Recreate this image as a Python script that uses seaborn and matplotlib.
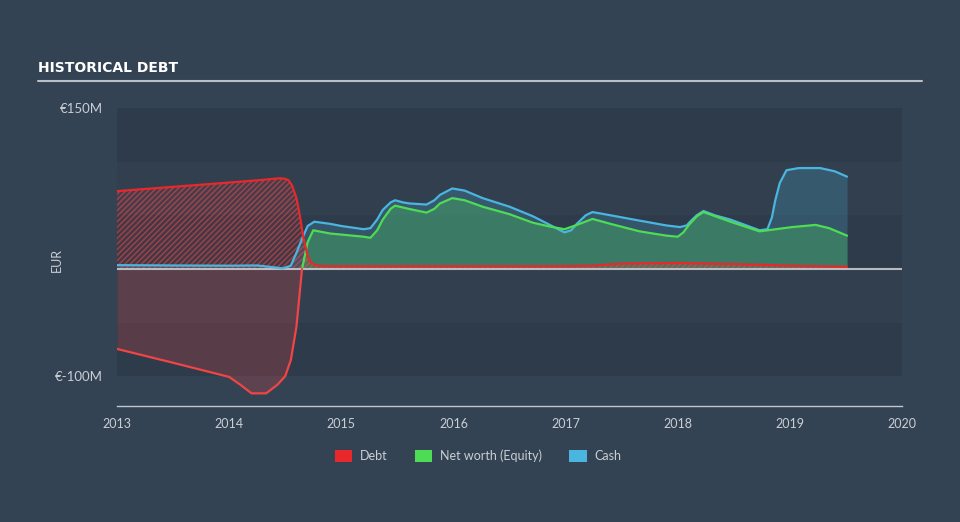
import matplotlib
matplotlib.use("Agg")
import matplotlib.pyplot as plt
from matplotlib.patches import Patch
import seaborn as sns
import numpy as np
import pandas as pd

# ---- data (EUR millions) ----
debt_t = [2013.0, 2013.5, 2014.0, 2014.3, 2014.45, 2014.5, 2014.53, 2014.56, 2014.6, 2014.63,
          2014.66, 2014.7, 2014.73, 2014.77, 2014.85, 2015.0, 2015.5, 2016.0, 2016.5, 2017.0,
          2017.25, 2017.5, 2018.0, 2018.5, 2019.0, 2019.51]
debt_v = [72.5, 76.5, 80.5, 83.0, 84.5, 84.0, 82.5, 78.0, 66.0, 50.0,
          30.0, 12.0, 6.0, 3.5, 2.5, 2.5, 2.5, 2.5, 2.5, 2.5,
          3.0, 5.0, 5.5, 4.5, 3.0, 2.0]

cash_t = [2013.0, 2013.5, 2014.0, 2014.25, 2014.4, 2014.48, 2014.55, 2014.6, 2014.65, 2014.7,
          2014.76, 2014.9, 2015.0, 2015.2, 2015.26, 2015.32, 2015.37, 2015.44, 2015.48, 2015.55,
          2015.61, 2015.76, 2015.83, 2015.88, 2015.99, 2016.1, 2016.26, 2016.5, 2016.71, 2016.86,
          2016.99, 2017.05, 2017.1, 2017.18, 2017.24, 2017.4, 2017.66, 2017.9, 2018.02, 2018.08,
          2018.11, 2018.17, 2018.23, 2018.33, 2018.47, 2018.6, 2018.73, 2018.8, 2018.84, 2018.87,
          2018.91, 2018.97, 2019.08, 2019.27, 2019.4, 2019.51]
cash_v = [3.5, 3.2, 3.0, 3.2, 1.5, 0.5, 3.0, 15.0, 28.0, 40.0,
          44.0, 42.0, 40.0, 37.0, 38.0, 46.0, 55.0, 62.0, 64.0, 62.0,
          61.0, 60.0, 64.0, 69.0, 75.0, 73.0, 66.0, 58.0, 49.0, 41.0,
          34.0, 36.0, 42.0, 50.0, 53.0, 50.0, 45.0, 40.5, 39.0, 40.5,
          44.0, 50.0, 54.0, 50.0, 46.0, 41.0, 36.0, 37.0, 48.0, 64.0,
          80.0, 92.0, 94.0, 94.0, 91.0, 86.0]

eq_t = [2013.0, 2013.5, 2014.0, 2014.1, 2014.2, 2014.33, 2014.43, 2014.5, 2014.55, 2014.6,
        2014.65, 2014.7, 2014.75, 2014.9, 2015.0, 2015.2, 2015.26, 2015.32, 2015.37, 2015.44,
        2015.48, 2015.6, 2015.76, 2015.83, 2015.88, 2015.99, 2016.1, 2016.26, 2016.5, 2016.71,
        2016.86, 2016.99, 2017.1, 2017.24, 2017.4, 2017.66, 2017.9, 2018.0, 2018.05, 2018.1,
        2018.17, 2018.23, 2018.47, 2018.73, 2019.02, 2019.23, 2019.35, 2019.51]
eq_v = [-74.6, -87.5, -100.7, -108.0, -116.0, -116.0, -108.0, -100.0, -85.0, -54.0,
        0.0, 25.0, 36.0, 33.0, 32.0, 30.0, 29.0, 36.0, 46.0, 56.0,
        59.0, 56.0, 52.5, 56.0, 61.0, 66.0, 64.0, 58.0, 51.0, 43.0,
        39.5, 37.0, 41.0, 46.6, 42.0, 35.0, 31.0, 30.0, 34.0, 41.0,
        49.0, 53.0, 44.0, 35.0, 39.0, 41.0, 38.0, 31.0]

year_ticks = [2013, 2014, 2015, 2016, 2017, 2018, 2019, 2020]
y_ticks = [150, -100]
y_tick_labels = ["€150M", "€-100M"]
legend_labels = ["Debt", "Net worth (Equity)", "Cash"]

# ---- style ----
BG = "#344354"
BAND_D = "#2e3b4a"
BAND_L = "#323f4f"
RED = "#e8282a"
RED2 = "#f04545"
GREEN = "#4fdc55"
BLUE = "#4ab6df"
TXT = "#c9ced4"

sns.set_theme(style="white")
plt.rcParams["font.family"] = ["Lato", "DejaVu Sans"]
plt.rcParams["hatch.linewidth"] = 1.0

fig = plt.figure(figsize=(9.6, 5.22), dpi=100, facecolor=BG)
ax = fig.add_axes([117 / 960, 1 - 406 / 522, (902 - 117) / 960, (406 - 108) / 522])
ax.set_facecolor(BG)
ax.set_xlim(2013, 2020)
ax.set_ylim(-127.8, 150)

# horizontal bands
edges = [150, 100, 50, 0, -50, -100]
for i in range(len(edges) - 1):
    ax.axhspan(edges[i + 1], edges[i], color=BAND_D if i % 2 == 0 else BAND_L, lw=0, zorder=0)

debt = pd.DataFrame({"t": debt_t, "v": debt_v})
cash = pd.DataFrame({"t": cash_t, "v": cash_v})
eq = pd.DataFrame({"t": eq_t, "v": eq_v})

# fills
ax.fill_between(cash.t, 0, cash.v, color=BLUE, alpha=0.22, lw=0, zorder=1)
eqv = np.array(eq_v)
ax.fill_between(eq.t, 0, eqv, where=eqv >= 0, color=GREEN, alpha=0.28, lw=0, zorder=2, interpolate=True)
ax.fill_between(eq.t, 0, eqv, where=eqv <= 0, color=RED2, alpha=0.22, lw=0, zorder=2, interpolate=True)
ax.fill_between(debt.t, 0, debt.v, facecolor=(0.91, 0.16, 0.16, 0.12),
                edgecolor=(0.92, 0.3, 0.3, 0.55), hatch="//////", lw=0, zorder=3)

# lines
sns.lineplot(data=cash, x="t", y="v", ax=ax, color=BLUE, lw=1.6, zorder=5, sort=False)
eq_pos = eq[eq.t >= 2014.65]
eq_neg = eq[eq.t <= 2014.65]
sns.lineplot(data=eq_pos, x="t", y="v", ax=ax, color=GREEN, lw=1.6, zorder=5, sort=False)
sns.lineplot(data=eq_neg, x="t", y="v", ax=ax, color=RED2, lw=1.6, zorder=5, sort=False)
sns.lineplot(data=debt, x="t", y="v", ax=ax, color=RED, lw=1.6, zorder=6, sort=False)

ax.axhline(0, color="#c8c8cc", lw=1.5, zorder=4, alpha=0.9)

# axes styling
for s in ["top", "right", "left"]:
    ax.spines[s].set_visible(False)
ax.spines["bottom"].set_color("#c0c6cc")
ax.spines["bottom"].set_linewidth(1.0)
ax.set_xticks(year_ticks)
ax.set_xticklabels([str(y) for y in year_ticks])
ax.tick_params(axis="x", colors=TXT, length=8, width=1.0, direction="out", labelsize=9, pad=1)
ax.tick_params(axis="x", color="#c0c6cc")
ax.set_yticks(y_ticks)
ax.set_yticklabels(y_tick_labels)
ax.tick_params(axis="y", colors=TXT, length=0, labelsize=9.5, pad=10)
ax.set_xlabel("")
ax.set_ylabel("")
ax.grid(False)

fig.text(57 / 960, 1 - 260 / 522, "EUR", color=TXT, fontsize=9, rotation=90,
         ha="center", va="center")

# title and rule
fig.text(38 / 960, 1 - 68 / 522, "HISTORICAL DEBT", color="white", fontsize=10,
         fontweight="bold", va="center", ha="left", family=["DejaVu Sans"])
fig.add_artist(plt.Line2D([38 / 960, 922 / 960], [1 - 81 / 522, 1 - 81 / 522],
                          color="#b9bfc6", lw=1.5, transform=fig.transFigure))

handles = [Patch(facecolor=RED, edgecolor="none"),
           Patch(facecolor=GREEN, edgecolor="none"),
           Patch(facecolor=BLUE, edgecolor="none")]
leg = fig.legend(handles, legend_labels, loc="center", bbox_to_anchor=(478 / 960, 1 - 456 / 522),
                 ncol=3, frameon=False, fontsize=9, handlelength=1.4, handleheight=1.0,
                 columnspacing=2.2, handletextpad=0.6)
for t in leg.get_texts():
    t.set_color(TXT)

fig.savefig("out.png", dpi=100, facecolor=BG)
